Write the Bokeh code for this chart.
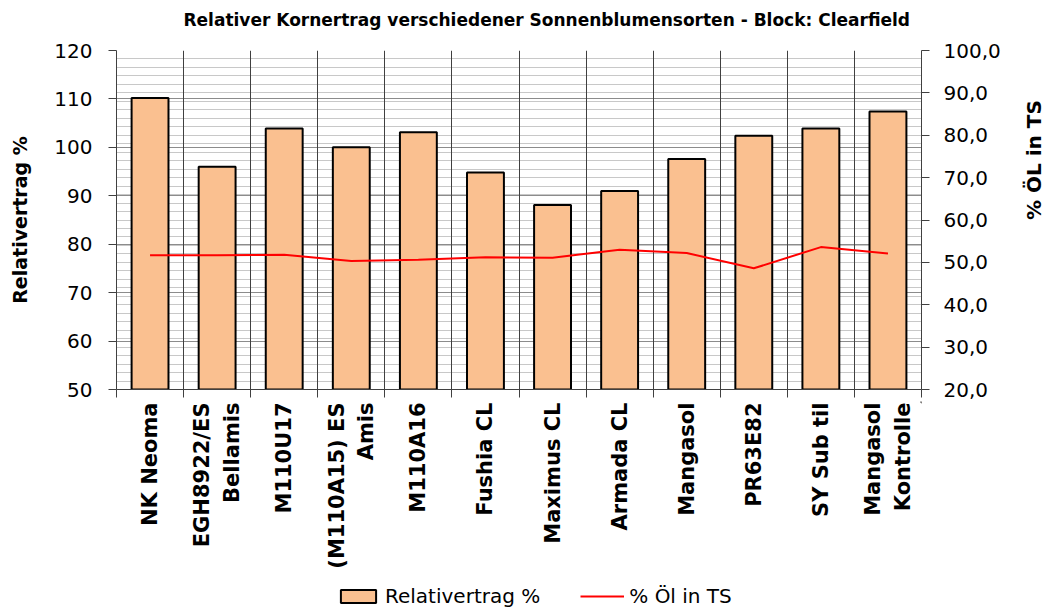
import math
from bokeh.plotting import figure
from bokeh.layouts import column
from bokeh.models import (Range1d, LinearAxis, FixedTicker, Grid, Legend, LegendItem,
                          CustomJSTickFormatter, ColumnDataSource)
from bokeh.core.properties import value
from bokeh.embed import file_html
from bokeh.resources import INLINE

# ---- data ----
title = "Relativer Kornertrag verschiedener Sonnenblumensorten - Block: Clearfield"
sorten = ["NK Neoma", "EGH8922/ES\nBellamis", "M110U17", "(M110A15) ES\nAmis", "M110A16",
          "Fushia CL", "Maximus CL", "Armada CL", "Mangasol", "PR63E82", "SY Sub til",
          "Mangasol\nKontrolle"]
relativertrag = [110.2, 96.0, 103.9, 100.0, 103.1, 94.8, 88.1, 91.0, 97.6, 102.4, 103.9, 107.4]
oel_in_ts = [51.7, 51.7, 51.8, 50.3, 50.6, 51.2, 51.1, 53.0, 52.2, 48.6, 53.6, 52.1]
left_ticks = [50, 60, 70, 80, 90, 100, 110, 120]
right_ticks = [20, 30, 40, 50, 60, 70, 80, 90, 100]

FONT = "DejaVu Sans"
n = len(sorten)
idx = list(range(n))
bounds = [i - 0.5 for i in range(n + 1)]
src = ColumnDataSource(dict(x=idx, ertrag=relativertrag, oel=oel_in_ts))

# category label positions: two-line names get one rotated text per line, side by side
LINE_OFFSET = 0.22
label_x, label_t = [], []
for i, name in enumerate(sorten):
    parts = name.split("\n")
    for k, part in enumerate(parts):
        label_x.append(i + (k - (len(parts) - 1) / 2) * 2 * LINE_OFFSET)
        label_t.append(part)

W, H = 1062, 609
TITLE_H = 38
MAIN_H = 363
LOW_H = H - TITLE_H - MAIN_H
BL, BR = 116, 141

xr = Range1d(-0.5, n - 0.5)

# ---- title strip ----
t = figure(width=W, height=TITLE_H, x_range=xr, y_range=Range1d(TITLE_H, 0),
           output_backend="svg", toolbar_location=None, x_axis_type=None, y_axis_type=None,
           title=None, min_border_left=BL, min_border_right=BR, min_border_top=0,
           min_border_bottom=0)
t.outline_line_color = None
t.xgrid.visible = False
t.ygrid.visible = False
t.text(x=[xr.start], y=[TITLE_H / 2], text=[title], x_offset=67, text_align="left",
       text_baseline="middle", text_font=value(FONT), text_font_size="17px",
       text_font_style="bold", text_color="black")

# ---- main chart ----
p = figure(width=W, height=MAIN_H, x_range=xr, y_range=Range1d(50, 120),
           output_backend="svg", toolbar_location=None, x_axis_type=None, y_axis_type=None,
           title=None, min_border_left=BL, min_border_right=BR, min_border_top=12,
           min_border_bottom=12)
p.extra_y_ranges = {"oel": Range1d(20, 100)}
p.outline_line_color = None
p.background_fill_color = "white"

p.add_layout(Grid(dimension=1, y_range_name="oel", ticker=FixedTicker(ticks=list(range(20, 101, 2))),
                  grid_line_color="#C8C8C8", grid_line_width=1))
p.add_layout(Grid(dimension=1, ticker=FixedTicker(ticks=left_ticks),
                  grid_line_color="#8C8C8C", grid_line_width=1))
p.add_layout(Grid(dimension=0, ticker=FixedTicker(ticks=bounds),
                  grid_line_color="#404040", grid_line_width=1))

bars = p.vbar(x="x", top="ertrag", bottom=50, width=0.55, source=src,
              fill_color="#FAC090", line_color="black", line_width=2)
line = p.line(x="x", y="oel", y_range_name="oel", source=src, line_color="red", line_width=2)


def style(ax):
    ax.axis_line_color = "#404040"
    ax.major_tick_line_color = "#404040"
    ax.minor_tick_line_color = "#404040"
    ax.major_label_text_font = FONT
    ax.major_label_text_color = "black"
    ax.axis_label_text_font = FONT
    ax.axis_label_text_font_style = "bold"
    ax.axis_label_text_color = "black"


left = LinearAxis(ticker=FixedTicker(ticks=left_ticks), axis_label="Relativertrag %")
style(left)
left.major_tick_out = 8
left.major_tick_in = 0
left.major_label_text_font_size = "20px"
left.major_label_standoff = 16
left.axis_label_text_font_size = "19px"
left.axis_label_standoff = 20
p.add_layout(left, "left")

right = LinearAxis(y_range_name="oel", ticker=FixedTicker(ticks=right_ticks),
                   formatter=CustomJSTickFormatter(code="return tick.toFixed(1).replace('.', ',');"),
                   axis_label="% ÖL in TS")
style(right)
right.major_tick_out = 8
right.major_tick_in = 0
right.major_label_text_font_size = "20px"
right.major_label_standoff = 14
right.axis_label_text_font_size = "20px"
right.axis_label_standoff = 30
props = right.properties()
if "axis_label_orientation" in props:
    right.axis_label_orientation = math.pi / 2
    if "axis_label_text_align" in props:
        right.axis_label_text_align = "center"
p.add_layout(right, "right")

# bottom axis: line plus tick marks at the category boundaries (labels drawn below)
bottom = LinearAxis(ticker=FixedTicker(ticks=[], minor_ticks=bounds))
style(bottom)
bottom.major_tick_out = 0
bottom.major_tick_in = 0
bottom.minor_tick_out = 8
bottom.minor_tick_in = 0
bottom.major_label_standoff = 0
p.add_layout(bottom, "below")

# ---- lower strip: category labels (reading bottom to top) and legend ----
r = figure(width=W, height=LOW_H, x_range=xr, y_range=Range1d(LOW_H, 0),
           output_backend="svg", toolbar_location=None, x_axis_type=None, y_axis_type=None,
           title=None, min_border_left=BL, min_border_right=BR, min_border_top=0,
           min_border_bottom=0)
r.outline_line_color = None
r.xgrid.visible = False
r.ygrid.visible = False
r.text(x=label_x, y=[1] * len(label_x), text=label_t, angle=math.pi / 2,
       text_align="right", text_baseline="middle", text_font=value(FONT),
       text_font_size="21px", text_font_style="bold", text_color="black")

# legend keys: same styling as the chart's series, one point placed outside the view
off = [n + 5, n + 6]
key_bar = r.vbar(x=off[:1], top=[1], bottom=0, width=0.55, fill_color="#FAC090",
                 line_color="black", line_width=2)
key_line = r.line(x=off, y=[1, 1], line_color="red", line_width=2)
legend = Legend(items=[LegendItem(label="Relativertrag %", renderers=[key_bar]),
                       LegendItem(label="% Öl in TS", renderers=[key_line])],
                orientation="horizontal", location=(220, 1))
legend.border_line_color = None
legend.background_fill_alpha = 0
legend.padding = 0
legend.margin = 0
legend.spacing = 40
legend.label_standoff = 5
legend.glyph_width = 44
legend.glyph_height = 16
legend.label_text_font = FONT
legend.label_text_font_size = "20px"
legend.label_text_color = "black"
r.add_layout(legend, "center")

layout = column(t, p, r, spacing=0)
open("out.html", "w").write(file_html(layout, INLINE))
